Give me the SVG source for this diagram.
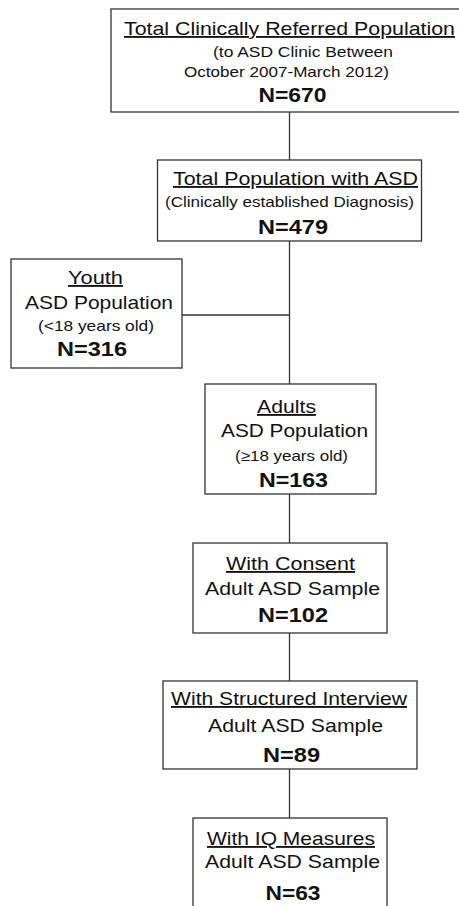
<svg xmlns="http://www.w3.org/2000/svg" width="459" height="906" viewBox="0 0 459 906">
<style>
rect.box{fill:#fff;stroke:#333;stroke-width:1.3}
.conn line{stroke:#333;stroke-width:1.3}
text{font-family:"Liberation Sans",Arial,Helvetica,sans-serif;fill:#111;text-anchor:middle}
.h{font-size:18.5px;text-decoration:underline}
.m{font-size:18.5px}
.s{font-size:15px}
.n{font-size:21px;font-weight:bold}
</style>
<rect width="459" height="906" fill="#fff"/>
<g class="conn" id="connectors">
<line x1="289.5" y1="112" x2="289.5" y2="160"/>
<line x1="289.5" y1="241" x2="289.5" y2="384"/>
<line x1="182" y1="315" x2="289.5" y2="315"/>
<line x1="289.5" y1="494" x2="289.5" y2="543"/>
<line x1="289.5" y1="633" x2="289.5" y2="681"/>
<line x1="289.5" y1="769" x2="289.5" y2="818"/>
</g>
<g id="total-referred">
<rect class="box" x="111" y="9" width="356" height="103"/>
<text class="h" x="289.5" y="35" textLength="331" lengthAdjust="spacingAndGlyphs">Total Clinically Referred Population</text>
<text class="s" x="303" y="57" textLength="180" lengthAdjust="spacingAndGlyphs">(to ASD Clinic Between</text>
<text class="s" x="286.5" y="77" textLength="205" lengthAdjust="spacingAndGlyphs">October 2007-March 2012)</text>
<text class="n" x="292.5" y="102" textLength="68" lengthAdjust="spacingAndGlyphs">N=670</text>
</g>
<g id="total-asd">
<rect class="box" x="157.5" y="160" width="264" height="81"/>
<text class="h" x="295.5" y="185" textLength="245" lengthAdjust="spacingAndGlyphs">Total Population with ASD</text>
<text class="s" x="289.5" y="207" textLength="249" lengthAdjust="spacingAndGlyphs">(Clinically established Diagnosis)</text>
<text class="n" x="293" y="234" textLength="70" lengthAdjust="spacingAndGlyphs">N=479</text>
</g>
<g id="youth">
<rect class="box" x="11" y="259" width="171" height="109"/>
<text class="h" x="95.5" y="284" textLength="55" lengthAdjust="spacingAndGlyphs">Youth</text>
<text class="m" x="99" y="309" textLength="148" lengthAdjust="spacingAndGlyphs">ASD Population</text>
<text class="s" x="96" y="331" textLength="116" lengthAdjust="spacingAndGlyphs">(&lt;18 years old)</text>
<text class="n" x="92" y="356" textLength="70" lengthAdjust="spacingAndGlyphs">N=316</text>
</g>
<g id="adults">
<rect class="box" x="205" y="384" width="171" height="110"/>
<text class="h" x="286.5" y="413" textLength="59" lengthAdjust="spacingAndGlyphs">Adults</text>
<text class="m" x="294.5" y="437" textLength="147" lengthAdjust="spacingAndGlyphs">ASD Population</text>
<text class="s" x="291.5" y="461" textLength="113" lengthAdjust="spacingAndGlyphs">(≥18 years old)</text>
<text class="n" x="293.5" y="487" textLength="69" lengthAdjust="spacingAndGlyphs">N=163</text>
</g>
<g id="consent">
<rect class="box" x="193" y="543" width="194" height="90"/>
<text class="h" x="290.5" y="570" textLength="129" lengthAdjust="spacingAndGlyphs">With Consent</text>
<text class="m" x="292.5" y="595" textLength="175" lengthAdjust="spacingAndGlyphs">Adult ASD Sample</text>
<text class="n" x="293" y="622" textLength="70" lengthAdjust="spacingAndGlyphs">N=102</text>
</g>
<g id="structured">
<rect class="box" x="163" y="681" width="254" height="88"/>
<text class="h" x="289" y="705" textLength="236" lengthAdjust="spacingAndGlyphs">With Structured Interview</text>
<text class="m" x="295.5" y="732" textLength="175" lengthAdjust="spacingAndGlyphs">Adult ASD Sample</text>
<text class="n" x="291.5" y="762" textLength="57" lengthAdjust="spacingAndGlyphs">N=89</text>
</g>
<g id="iq">
<rect class="box" x="193" y="818" width="194" height="100"/>
<text class="h" x="291" y="845" textLength="168" lengthAdjust="spacingAndGlyphs">With IQ Measures</text>
<text class="m" x="292.5" y="868" textLength="175" lengthAdjust="spacingAndGlyphs">Adult ASD Sample</text>
<text class="n" x="293" y="900" textLength="55" lengthAdjust="spacingAndGlyphs">N=63</text>
</g>
</svg>
